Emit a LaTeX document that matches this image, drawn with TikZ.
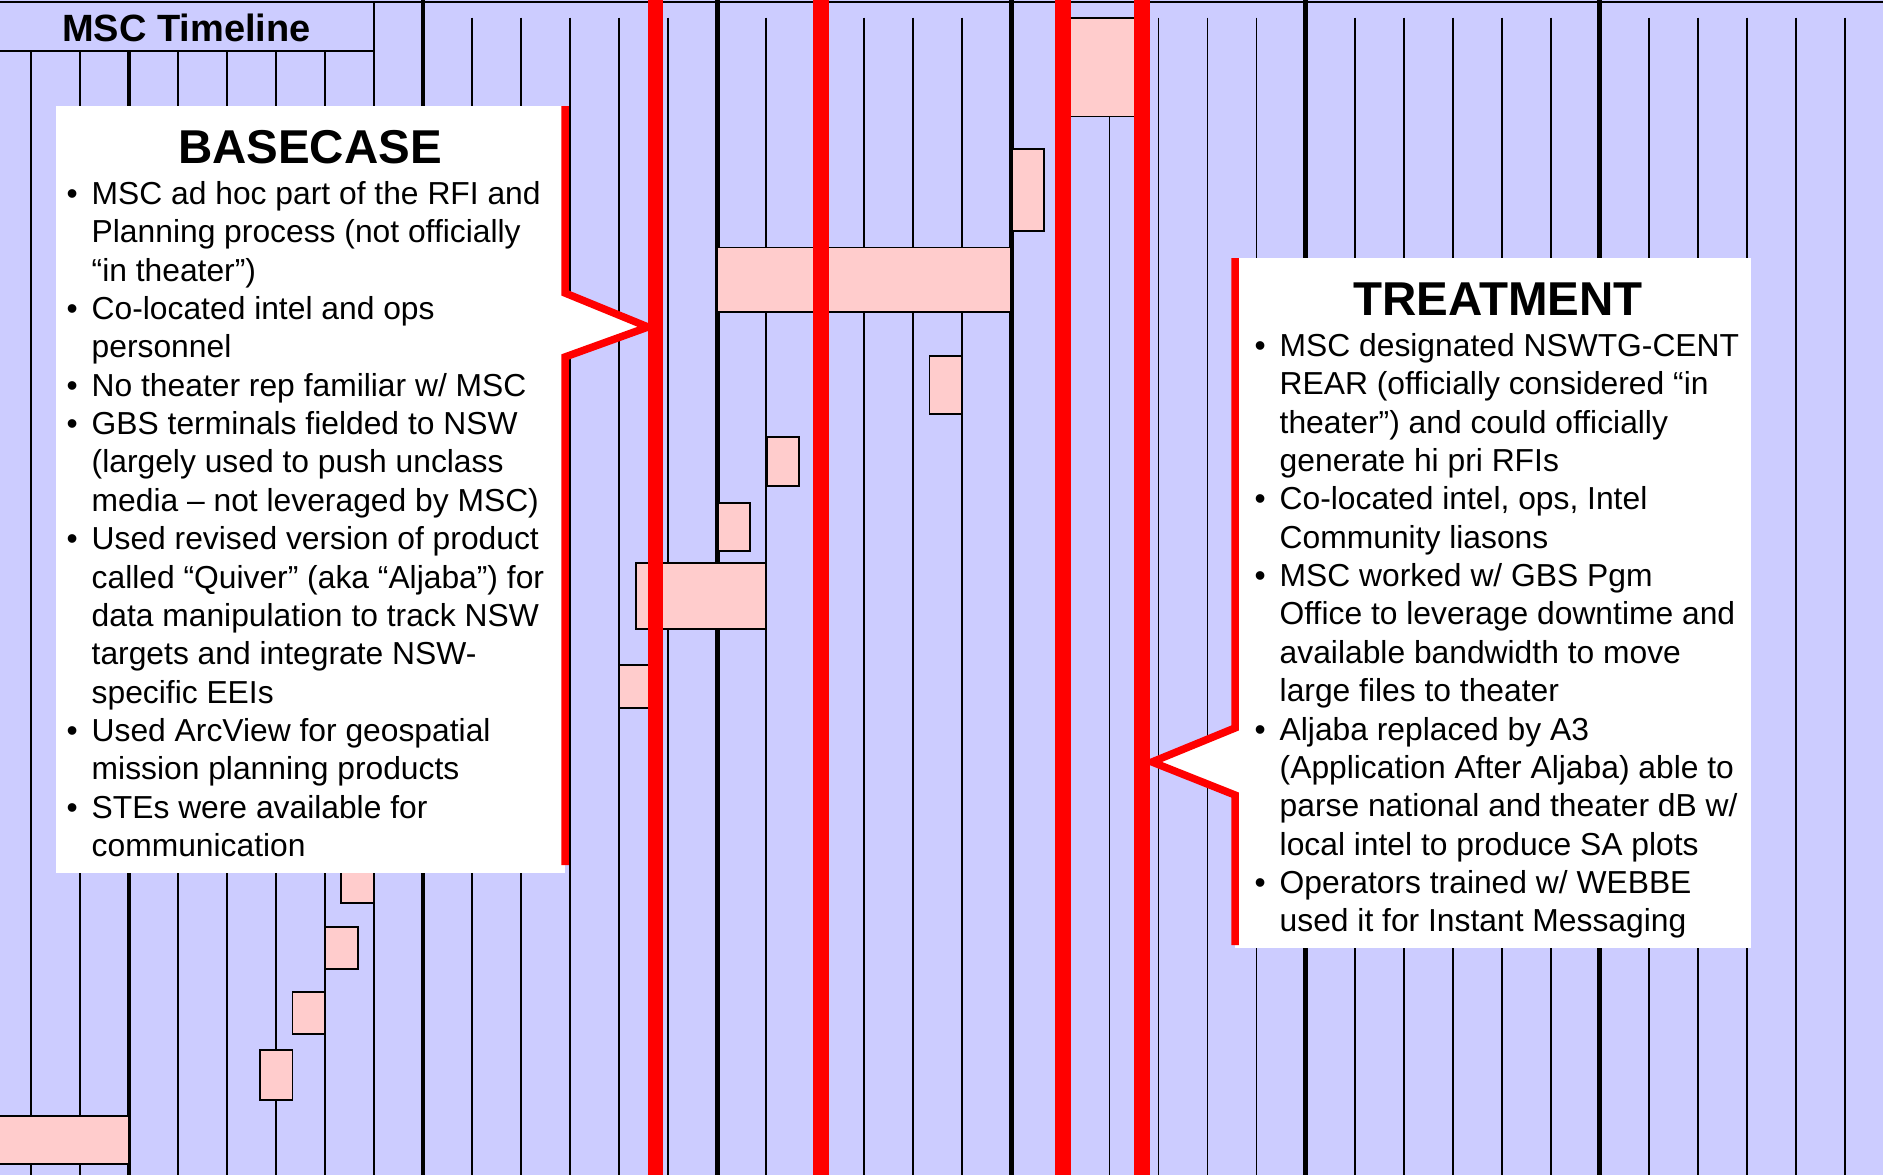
\documentclass[tikz,border=0pt]{standalone}
\usepackage{fontspec}
\setmainfont{Liberation Sans}
\definecolor{lav}{RGB}{204,204,255}
\definecolor{barpink}{RGB}{255,204,204}
\definecolor{markred}{RGB}{255,0,0}
% one bulleted entry with a hanging indent; lines are broken by hand
\newcommand\bitem[1]{\par\noindent\hangindent=25pt\hangafter=1\makebox[25pt][l]{•}#1\par}
% a top-aligned text column, so its base anchor sits on the first line
\newenvironment{notecolumn}{\begin{minipage}[t]{520pt}}{\end{minipage}}
\begin{document}
\begin{tikzpicture}[x=1pt,y=-1pt,
  minor/.style={draw=black,line width=1.8pt},
  major/.style={draw=black,line width=4.6pt},
  bar/.style={fill=barpink,draw=black,line width=1.8pt},
  redmark/.style={draw=markred,line width=15.5pt},
  calloutedge/.style={draw=markred,line width=7.5pt,line join=miter},
  headtext/.style={font=\fontsize{47.5}{57}\selectfont\bfseries,inner sep=0pt,anchor=base},
  bodytext/.style={font=\fontsize{31.8}{38.35}\selectfont,inner sep=0pt,anchor=base west}]
\useasboundingbox (0,0) rectangle (1883,1175);

% background
\fill[lav] (0,0) rectangle (1883,1175);

% timeline grid: thin week lines, heavy line every sixth
\foreach \k in {0,...,6}
  \draw[minor] ({30.8+49.03*\k},50.7) -- ({30.8+49.03*\k},1175);
\foreach \k in {7,...,37}
  \draw[minor] ({30.8+49.03*\k},17.5) -- ({30.8+49.03*\k},1175);
\draw[major] ({30.8+49.03*2},50.7) -- ({30.8+49.03*2},1175);
\foreach \k in {8,14,20,26,32}
  \draw[major] ({30.8+49.03*\k},0) -- ({30.8+49.03*\k},1175);

% top rule and title tab
\draw[black,line width=2.5pt] (0,2) -- (1883,2);
\draw[black,line width=2pt,fill=lav] (-3,2) rectangle (374,50.7);
\node[font=\fontsize{38}{45}\selectfont\bfseries,inner sep=0pt,anchor=base west]
  (title) at (62,41.7) {MSC Timeline};

% activity bars
\draw[bar] (1060,18) rectangle (1145,116.5);
\draw[bar] (1012,149) rectangle (1044,231);
\draw[bar] (717.5,247.5) rectangle (1011,312);
\draw[bar] (929.5,356) rectangle (962,414);
\draw[bar] (767,437) rectangle (799,486);
\draw[bar] (718,503) rectangle (750,551);
\draw[bar] (636,563) rectangle (766,629);
\draw[bar] (619,665) rectangle (652,708);
\draw[bar] (341,850) rectangle (374,903);
\draw[bar] (325,927) rectangle (358,969);
\draw[bar] (292.5,992) rectangle (325,1034);
\draw[bar] (260,1050) rectangle (292.5,1100);
\draw[bar] (-5,1116) rectangle (128.5,1164);

% milestone markers
\foreach \mx in {655.5,821,1063,1142}
  \draw[redmark] (\mx,0) -- (\mx,1175);

% BASECASE callout
\fill[white] (56,106) rectangle (565,873);
\fill[white] (565,293) -- (648,327) -- (565,357) -- cycle;
\draw[calloutedge] (565,106) -- (565,293) -- (648,327) -- (565,357) -- (565,865);

% TREATMENT callout
\fill[white] (1235,258) rectangle (1751,947.5);
\fill[white] (1235,728) -- (1152,762) -- (1235,795) -- cycle;
\draw[calloutedge] (1235,258) -- (1235,728) -- (1152,762) -- (1235,795) -- (1235,945);

% callout texts
\node[headtext] (basehead) at (310,163) {BASECASE};
\node[bodytext] (basebody) at (66.5,204.5) {\begin{notecolumn}%
\bitem{MSC ad hoc part of the RFI and\\Planning process (not officially\\“in theater”)}
\bitem{Co-located intel and ops\\personnel}
\bitem{No theater rep familiar w/ MSC}
\bitem{GBS terminals fielded to NSW\\(largely used to push unclass\\media – not leveraged by MSC)}
\bitem{Used revised version of product\\called “Quiver” (aka “Aljaba”) for\\data manipulation to track NSW\\targets and integrate NSW-\\specific EEIs}
\bitem{Used ArcView for geospatial\\mission planning products}
\bitem{STEs were available for\\communication}%
\end{notecolumn}};

\node[headtext] (treathead) at (1498,315) {TREATMENT};
\node[bodytext] (treatbody) at (1254.5,356.5) {\begin{notecolumn}%
\bitem{MSC designated NSWTG-CENT\\REAR (officially considered “in\\theater”) and could officially\\generate hi pri RFIs}
\bitem{Co-located intel, ops, Intel\\Community liasons}
\bitem{MSC worked w/ GBS Pgm\\Office to leverage downtime and\\available bandwidth to move\\large files to theater}
\bitem{Aljaba replaced by A3\\(Application After Aljaba) able to\\parse national and theater dB w/\\local intel to produce SA plots}
\bitem{Operators trained w/ WEBBE\\used it for Instant Messaging}%
\end{notecolumn}};
\end{tikzpicture}
\end{document}
